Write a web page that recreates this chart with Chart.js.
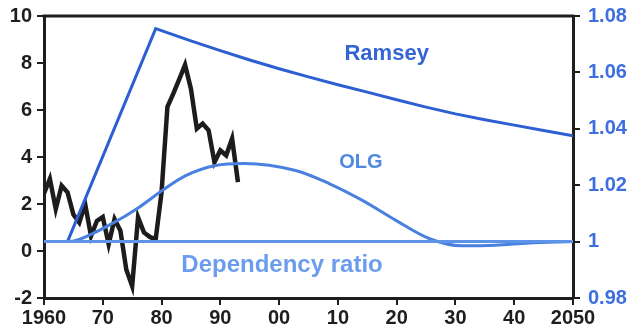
<!DOCTYPE html>
<html>
<head>
<meta charset="utf-8">
<script src="https://cdn.jsdelivr.net/npm/chart.js@4"></script>
<style>
  html, body { margin: 0; padding: 0; background: #fff; }
  #wrap { width: 644px; height: 329px; }
</style>
</head>
<body>
<div id="wrap"><canvas id="myChart"></canvas></div>
<script>
// actual series (left axis), annual
const actualYears = [1960, 1961, 1962, 1963, 1964, 1965, 1966, 1967, 1968, 1969,
                     1970, 1971, 1972, 1973, 1974, 1975, 1976, 1977, 1978, 1979,
                     1980, 1981, 1982, 1983, 1984, 1985, 1986, 1987, 1988, 1989,
                     1990, 1991, 1992, 1993];
const actualValues = [2.45, 3.07, 1.79, 2.78, 2.5, 1.55, 1.21, 2.0, 0.64, 1.28,
                      1.45, 0.29, 1.36, 0.86, -0.79, -1.5, 1.43, 0.79, 0.6, 0.5,
                      2.5, 6.14, 6.7, 7.3, 7.92, 6.9, 5.21, 5.42, 5.14, 3.78,
                      4.28, 4.07, 4.78, 2.93];

// model series (right axis)
const ramseyYears = [1964, 1979, 1985, 1990, 1995, 2000, 2005, 2010, 2015, 2020,
                     2025, 2030, 2035, 2040, 2045, 2050];
const ramseyValues = [1.0, 1.0755, 1.0712, 1.0677, 1.0644, 1.0613, 1.0584, 1.0556, 1.053, 1.0503,
                      1.0477, 1.0453, 1.0432, 1.0413, 1.0394, 1.0375];

const olgYears = [1960, 1964, 1966, 1971.6, 1976.2, 1980.1, 1984.1, 1989.2, 1994,
                  2002.8, 2008.5, 2014.1, 2019.8, 2025.5, 2031.1, 2036.8, 2042.5, 2050];
const olgValues = [1.0, 1.0, 1.0008, 1.0064, 1.0122, 1.0181, 1.0234, 1.027, 1.0277,
                   1.0252, 1.0206, 1.0147, 1.0076, 1.0011, 0.9985, 0.9987, 0.9995, 1.0];

const depYears = [1960, 2050];
const depValues = [1.0, 1.0];

const leftTicks = [-2, 0, 2, 4, 6, 8, 10];
const rightTicks = [0.98, 1, 1.02, 1.04, 1.06, 1.08];
const xTicks = [1960, 1970, 1980, 1990, 2000, 2010, 2020, 2030, 2040, 2050];

const pts = (xs, ys) => xs.map((x, i) => ({ x: x, y: ys[i] }));

const FONT = 'Liberation Sans, Arial, Helvetica, sans-serif';

// stop tick-label overhang from moving the plot area
const noPad = (scale) => {
    scale.paddingTop = 0; scale.paddingBottom = 0;
    scale.paddingLeft = 0; scale.paddingRight = 0;
};

// frame top line + series labels
const extras = {
    id: 'extras',
    afterDraw(chart) {
        const { ctx, chartArea, scales } = chart;
        ctx.save();
        ctx.strokeStyle = '#1e1e1e';
        ctx.lineWidth = 3;
        ctx.beginPath();
        ctx.moveTo(chartArea.left - 1.5, chartArea.top);
        ctx.lineTo(chartArea.right + 1.5, chartArea.top);
        ctx.stroke();

        const labels = [
            { text: 'Ramsey', x: 2018.3, y: 1.0667, color: '#3565d4', font: 'bold 22px ' + FONT },
            { text: 'OLG', x: 2013.9, y: 1.0282, color: '#5088e2', font: 'bold 20px ' + FONT },
            { text: 'Dependency ratio', x: 2000.5, y: 0.9917, color: '#6c9ced', font: 'bold 24px ' + FONT }
        ];
        ctx.textAlign = 'center';
        ctx.textBaseline = 'middle';
        labels.forEach(l => {
            ctx.fillStyle = l.color;
            ctx.font = l.font;
            ctx.fillText(l.text, scales.x.getPixelForValue(l.x), scales.y2.getPixelForValue(l.y));
        });
        ctx.restore();
    }
};

new Chart(document.getElementById('myChart'), {
    type: 'line',
    data: {
        datasets: [
            {
                label: 'Dependency ratio',
                data: pts(depYears, depValues),
                yAxisID: 'y2',
                borderColor: '#5e93ea',
                borderWidth: 3,
                pointRadius: 0
            },
            {
                label: 'OLG',
                data: pts(olgYears, olgValues),
                yAxisID: 'y2',
                borderColor: '#4a80e0',
                borderWidth: 3,
                pointRadius: 0,
                cubicInterpolationMode: 'monotone'
            },
            {
                label: 'Ramsey',
                data: pts(ramseyYears, ramseyValues),
                yAxisID: 'y2',
                borderColor: '#2d5fd2',
                borderWidth: 3,
                pointRadius: 0,
                tension: 0
            },
            {
                label: 'Actual',
                data: pts(actualYears, actualValues),
                yAxisID: 'y',
                borderColor: '#1c1c1c',
                borderWidth: 4.5,
                pointRadius: 0,
                borderJoinStyle: 'miter'
            }
        ]
    },
    options: {
        responsive: true,
        maintainAspectRatio: false,
        animation: false,
        layout: { padding: { top: 16, left: 0, right: 0, bottom: 0 } },
        plugins: {
            legend: { display: false },
            tooltip: { enabled: false }
        },
        scales: {
            x: {
                type: 'linear',
                min: 1960,
                max: 2050,
                afterBuildTicks: (scale) => { scale.ticks = xTicks.map(v => ({ value: v })); },
                afterFit: (scale) => { scale.height = 31; noPad(scale); },
                border: { display: true, color: '#1e1e1e', width: 3 },
                grid: { drawOnChartArea: false, drawTicks: true, tickLength: 7, color: '#1e1e1e', lineWidth: 2 },
                ticks: {
                    color: '#1e1e1e',
                    padding: 1,
                    maxRotation: 0,
                    font: { family: FONT, size: 20, weight: 'bold' },
                    callback: (v) => (v === 1960 || v === 2050) ? String(v) : String(v % 100).padStart(2, '0')
                }
            },
            y: {
                position: 'left',
                min: -2,
                max: 10,
                afterBuildTicks: (scale) => { scale.ticks = leftTicks.map(v => ({ value: v })); },
                afterFit: (scale) => { scale.width = 44; noPad(scale); },
                border: { display: true, color: '#1e1e1e', width: 3 },
                grid: { drawOnChartArea: false, drawTicks: true, tickLength: 7, color: '#1e1e1e', lineWidth: 2 },
                ticks: {
                    color: '#1e1e1e',
                    padding: 5,
                    font: { family: FONT, size: 20, weight: 'bold' }
                }
            },
            y2: {
                position: 'right',
                min: 0.98,
                max: 1.08,
                afterBuildTicks: (scale) => { scale.ticks = rightTicks.map(v => ({ value: v })); },
                afterFit: (scale) => { scale.width = 71; noPad(scale); },
                border: { display: true, color: '#1e1e1e', width: 3 },
                grid: { drawOnChartArea: false, drawTicks: true, tickLength: 7, color: '#1e1e1e', lineWidth: 2 },
                ticks: {
                    color: '#3d6fe0',
                    padding: 8,
                    font: { family: FONT, size: 20, weight: 'bold' },
                    callback: (v) => String(Math.round(v * 100) / 100)
                }
            }
        }
    },
    plugins: [extras]
});
</script>
</body>
</html>
